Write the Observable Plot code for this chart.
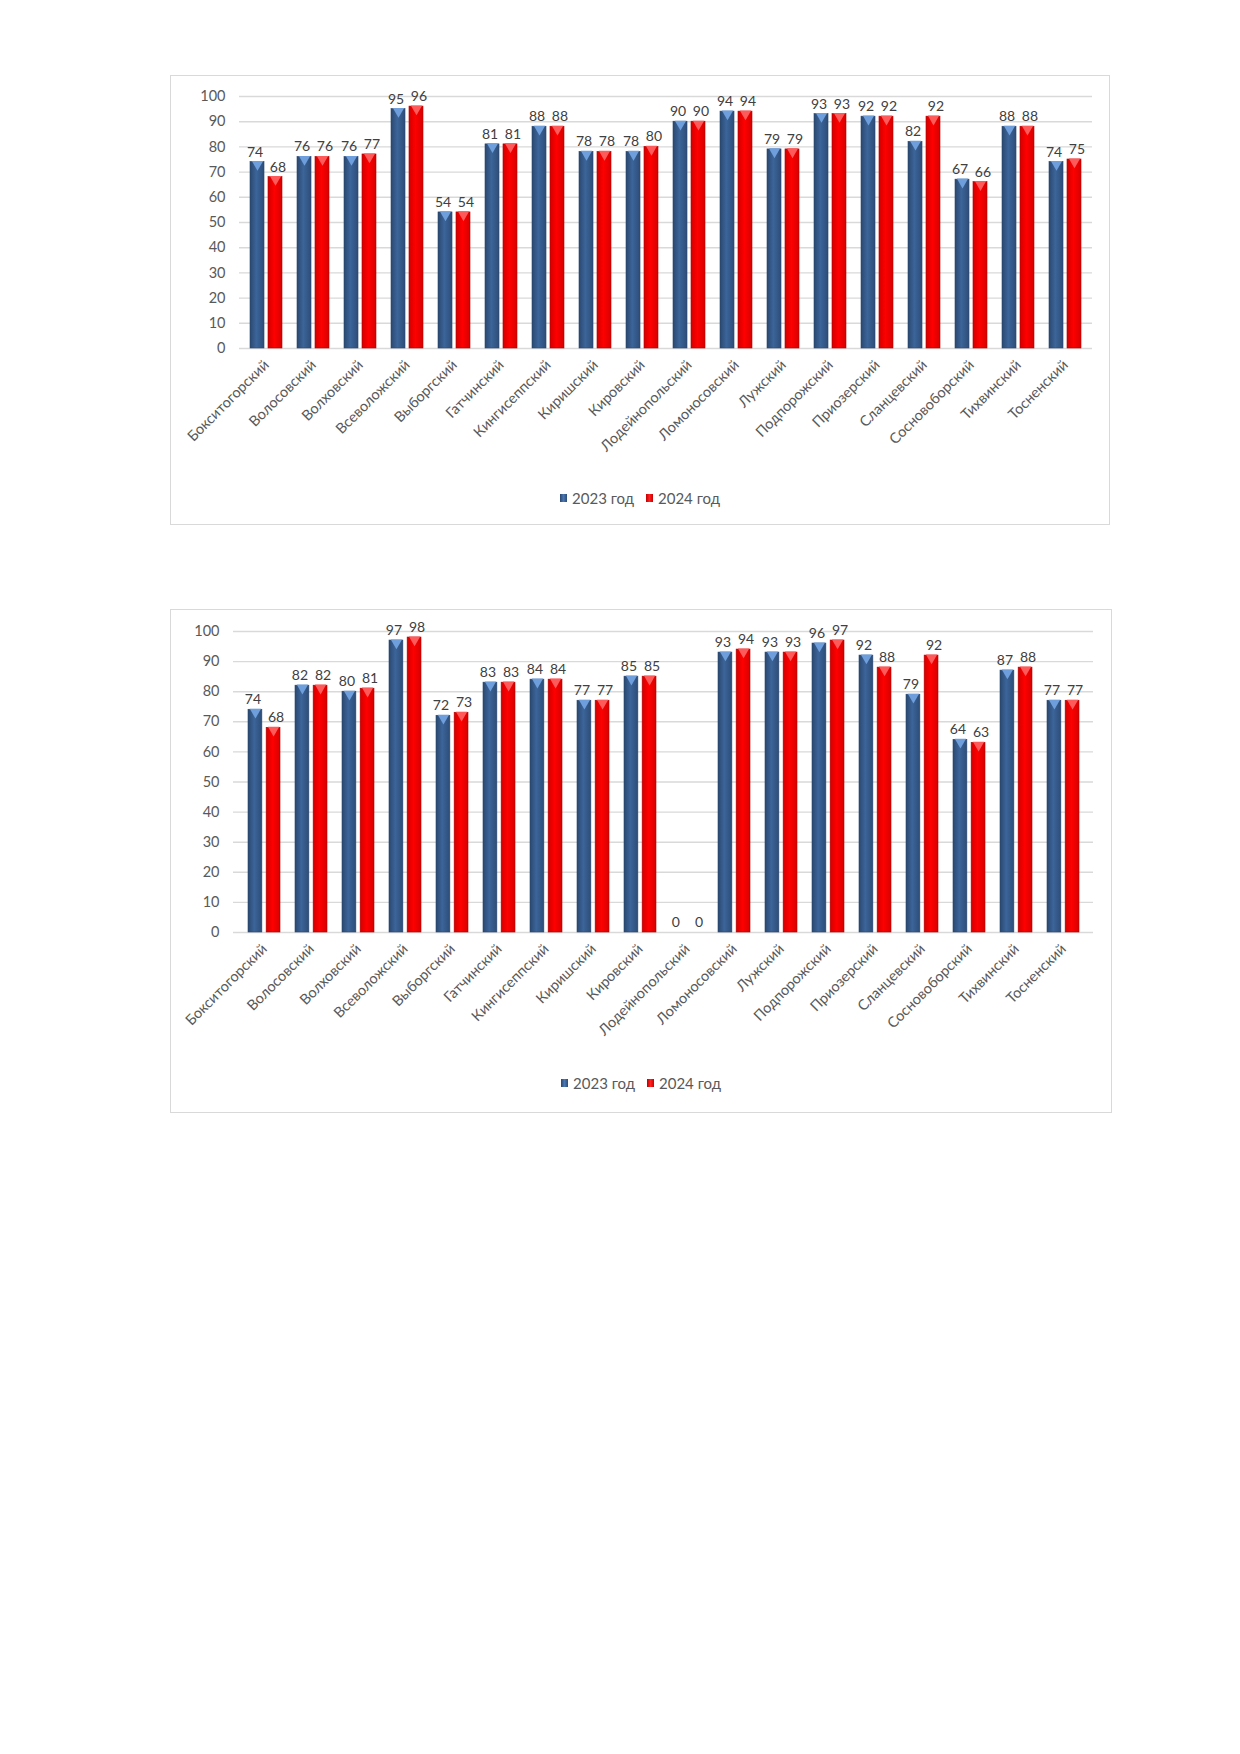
<!DOCTYPE html>
<html><head><meta charset="utf-8">
<script src="https://cdn.jsdelivr.net/npm/d3@7"></script>
<script src="https://cdn.jsdelivr.net/npm/@observablehq/plot@0.6"></script>
<style>
body{margin:0;background:#fff;font-family:Lato,"Noto Sans",sans-serif;width:1240px;height:1754px;position:relative;}
.frame{position:absolute;border:1px solid #d9d9d9;box-sizing:border-box;background:#fff;}
.frame svg.plot{position:absolute;left:0;top:0;overflow:visible;}
.legend{position:absolute;left:0;right:0;display:flex;justify-content:center;align-items:center;font-size:15px;color:#595959;line-height:18px;}
.legend .item{display:flex;align-items:center;margin:0 6px;}
.legend .sw{width:7px;height:8px;margin-right:5px;}
</style></head><body>
<svg width="0" height="0" style="position:absolute"><defs>
<linearGradient id="gBlue" x1="0" x2="1" y1="0" y2="0">
<stop offset="0" stop-color="#2a486f"/><stop offset="0.45" stop-color="#3c659a"/><stop offset="1" stop-color="#2d4d77"/></linearGradient>
<linearGradient id="gRed" x1="0" x2="1" y1="0" y2="0">
<stop offset="0" stop-color="#d20000"/><stop offset="0.45" stop-color="#ff0000"/><stop offset="1" stop-color="#d80000"/></linearGradient>
</defs></svg>
<div id="c1" class="frame" style="left:170px;top:75px;width:940px;height:450px"></div>
<div id="c2" class="frame" style="left:170px;top:609px;width:942px;height:504px"></div>
<script>
const districts = ["Бокситогорский","Волосовский","Волховский","Всеволожский","Выборгский","Гатчинский","Кингисеппский","Киришский","Кировский","Лодейнопольский","Ломоносовский","Лужский","Подпорожский","Приозерский","Сланцевский","Сосновоборский","Тихвинский","Тосненский"];
const years = ["2023 год","2024 год"];
const chart1_2023 = [74,76,76,95,54,81,88,78,78,90,94,79,93,92,82,67,88,74];
const chart1_2024 = [68,76,77,96,54,81,88,78,80,90,94,79,93,92,92,66,88,75];
const chart2_2023 = [74,82,80,97,72,83,84,77,85,0,93,93,96,92,79,64,87,77];
const chart2_2024 = [68,82,81,98,73,83,84,77,85,0,94,93,97,88,92,63,88,77];
const yTicks = [0,10,20,30,40,50,60,70,80,90,100];

function draw(el, v23, v24, cfg) {
  const pI = 0.325, pO = 0.1625;
  const plotW = cfg.width - cfg.marginLeft - cfg.marginRight;
  const step = plotW / (districts.length - pI + 2 * pO);
  const bw = step * (1 - pI);
  const barW = bw * 0.4375;
  const gap = bw - 2 * barW;
  const shift = (barW + gap) / 2;
  const lshift = shift + 2.5;
  const r23 = districts.map((d, i) => ({district: d, value: v23[i]}));
  const r24 = districts.map((d, i) => ({district: d, value: v24[i]}));
  const svg = Plot.plot({
    width: cfg.width, height: cfg.height,
    marginLeft: cfg.marginLeft, marginRight: cfg.marginRight,
    marginTop: cfg.marginTop, marginBottom: cfg.marginBottom,
    style: {fontFamily: "Lato, 'Noto Sans', sans-serif", color: "#595959", background: "transparent", overflow: "visible"},
    x: {domain: districts, paddingInner: pI, paddingOuter: pO},
    y: {domain: [0, 100]},
    marks: [
      Plot.gridY(yTicks, {stroke: "#d9d9d9", strokeOpacity: 1, strokeWidth: 1.4}),
      Plot.axisY({ticks: yTicks, tickSize: 0, tickPadding: cfg.yPad, fontSize: 14.5, label: null}),
      Plot.axisX({tickSize: 0, tickRotate: -45, tickPadding: cfg.xPad, fontSize: 14.5, label: null}),
      Plot.barY(r23, {x: "district", y: "value", fill: "url(#gBlue)", stroke: "#2a4670", strokeWidth: 0.6, insetRight: bw - barW}),
      Plot.barY(r24, {x: "district", y: "value", fill: "url(#gRed)", stroke: "#b00000", strokeWidth: 0.6, insetLeft: bw - barW}),
      Plot.dot(r23.filter(d => d.value > 0), {x: "district", y: "value", dx: -shift, dy: 2.2, symbol: "triangle", rotate: 180, r: 4.2, fill: "#6e9fdc", stroke: "none"}),
      Plot.dot(r24.filter(d => d.value > 0), {x: "district", y: "value", dx: shift, dy: 2.2, symbol: "triangle", rotate: 180, r: 4.2, fill: "#ff5a5a", stroke: "none"}),
      Plot.text(r23, {x: "district", y: "value", text: d => String(d.value), dx: -lshift, dy: -10, fontSize: 14, fill: "#404040"}),
      Plot.text(r24, {x: "district", y: "value", text: d => String(d.value), dx: lshift, dy: -10, fontSize: 14, fill: "#404040"})
    ]
  });
  svg.classList.add("plot");
  el.appendChild(svg);
  const lg = document.createElement("div");
  lg.className = "legend";
  lg.style.top = cfg.legendTop + "px";
  years.forEach((y, i) => {
    const it = document.createElement("div");
    it.className = "item";
    const sw = document.createElement("span");
    sw.className = "sw";
    sw.style.background = i === 0 ? "linear-gradient(90deg,#2a486f,#4a78b4,#2d4d77)" : "linear-gradient(90deg,#c00000,#ff2020,#c80000)";
    const tx = document.createElement("span");
    tx.textContent = y;
    it.appendChild(sw); it.appendChild(tx);
    lg.appendChild(it);
  });
  el.appendChild(lg);
}

draw(document.getElementById("c1"), chart1_2023, chart1_2024,
  {width: 938, height: 400, marginLeft: 68, marginRight: 17, marginTop: 20, marginBottom: 128, yPad: 14, xPad: 14, legendTop: 413});
draw(document.getElementById("c2"), chart2_2023, chart2_2024,
  {width: 940, height: 460, marginLeft: 62, marginRight: 18, marginTop: 21, marginBottom: 138, yPad: 14, xPad: 14, legendTop: 464});
</script>
</body></html>
